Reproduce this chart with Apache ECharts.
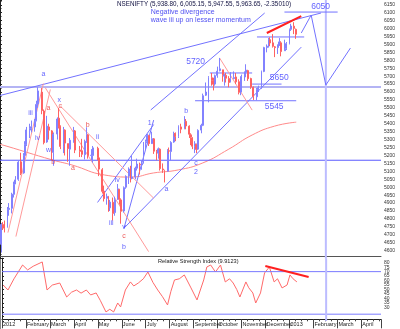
<!DOCTYPE html>
<html><head><meta charset="utf-8">
<script src="https://cdn.jsdelivr.net/npm/echarts@6/dist/echarts.min.js"></script>
<style>html,body{margin:0;padding:0;background:#fff}#c{width:400px;height:329px}</style>
</head><body><div id="c"></div>
<script>
// NSE NIFTY, sessions grouped in pairs: [first session, open, high, low, close]
const jan2012 = [['2012-01-02',4640,4773,4588,4765],['2012-01-04',4765,4780,4730,4749],['2012-01-06',4749,4790,4715,4742],['2012-01-10',4750,4875,4745,4860],['2012-01-12',4860,4900,4820,4867],['2012-01-16',4867,4965,4835,4956],['2012-01-18',4955,5035,4935,5018],['2012-01-20',5020,5070,5020,5046],['2012-01-24',5050,5170,5040,5158],['2012-01-27',5160,5217,5076,5087],['2012-01-31',5090,5215,5085,5199]];
const feb2012 = [['2012-02-01',5200,5290,5160,5269],['2012-02-03',5270,5380,5260,5361],['2012-02-07',5360,5400,5310,5368],['2012-02-09',5370,5420,5345,5381],['2012-02-13',5380,5430,5350,5416],['2012-02-15',5420,5545,5415,5522],['2012-02-17',5525,5630,5500,5607],['2012-02-22',5600,5625,5460,5483],['2012-02-24',5480,5490,5270,5281],['2012-02-28',5285,5450,5280,5385]];
const mar2012 = [['2012-03-01',5380,5400,5300,5359],['2012-03-05',5355,5360,5170,5222],['2012-03-07',5220,5345,5135,5333],['2012-03-12',5335,5440,5300,5430],['2012-03-14',5435,5500,5370,5380],['2012-03-16',5380,5390,5240,5257],['2012-03-20',5255,5380,5215,5364],['2012-03-22',5360,5365,5200,5278],['2012-03-26',5275,5275,5160,5243],['2012-03-28',5240,5310,5135,5296]];
const apr2012 = [['2012-04-02',5300,5380,5280,5358],['2012-04-04',5355,5360,5215,5234],['2012-04-10',5235,5260,5190,5226],['2012-04-12',5230,5305,5190,5207],['2012-04-16',5205,5300,5175,5289],['2012-04-18',5290,5378,5280,5332],['2012-04-20',5330,5335,5180,5200],['2012-04-24',5200,5240,5170,5202],['2012-04-26',5200,5260,5155,5248]];
const may2012 = [['2012-05-02',5245,5255,5170,5188],['2012-05-04',5185,5190,5070,5114],['2012-05-08',5110,5120,4960,4974],['2012-05-10',4975,5010,4910,4928],['2012-05-14',4930,4960,4890,4942],['2012-05-16',4940,4945,4845,4870],['2012-05-18',4870,4920,4850,4906],['2012-05-22',4905,4935,4790,4835],['2012-05-24',4840,4940,4820,4920],['2012-05-28',4925,5020,4920,4990],['2012-05-30',4985,4990,4890,4924]];
const jun2012 = [['2012-06-01',4920,4930,4770,4848],['2012-06-05',4850,5005,4840,4997],['2012-06-07',5000,5075,4990,5068],['2012-06-11',5070,5125,5020,5115],['2012-06-13',5115,5135,5030,5054],['2012-06-15',5055,5200,5050,5064],['2012-06-19',5065,5130,5050,5120],['2012-06-21',5120,5180,5105,5146],['2012-06-25',5145,5155,5080,5141],['2012-06-27',5140,5170,5110,5149],['2012-06-29',5150,5285,5150,5278]];
const jul2012 = [['2012-07-02',5280,5300,5240,5287],['2012-07-04',5290,5335,5270,5327],['2012-07-06',5325,5330,5260,5275],['2012-07-10',5275,5350,5290,5306],['2012-07-12',5305,5310,5210,5227],['2012-07-16',5225,5235,5170,5216],['2012-07-18',5215,5250,5180,5242],['2012-07-20',5240,5245,5105,5117],['2012-07-24',5115,5150,5090,5109],['2012-07-26',5105,5110,5030,5099],['2012-07-30',5100,5240,5100,5229]];
const aug2012 = [['2012-08-01',5230,5250,5210,5227],['2012-08-03',5225,5290,5165,5282],['2012-08-07',5285,5350,5280,5338],['2012-08-09',5340,5345,5290,5320],['2012-08-13',5320,5390,5310,5380],['2012-08-16',5380,5400,5340,5366],['2012-08-21',5370,5448,5365,5413],['2012-08-23',5415,5430,5365,5386],['2012-08-27',5385,5390,5310,5334],['2012-08-29',5330,5340,5265,5315],['2012-08-31',5310,5315,5240,5258]];
const sep2012 = [['2012-09-03',5255,5290,5215,5274],['2012-09-05',5270,5275,5215,5238],['2012-09-07',5240,5365,5235,5358],['2012-09-11',5360,5400,5340,5390],['2012-09-13',5390,5590,5385,5577],['2012-09-17',5580,5660,5575,5600],['2012-09-20',5600,5700,5535,5691],['2012-09-24',5690,5720,5640,5673],['2012-09-26',5670,5690,5610,5649],['2012-09-28',5650,5710,5640,5703]];
const oct2012 = [['2012-10-01',5705,5760,5690,5731],['2012-10-04',5735,5815,5730,5746],['2012-10-08',5740,5740,5665,5705],['2012-10-10',5700,5715,5640,5708],['2012-10-12',5705,5720,5660,5687],['2012-10-16',5685,5700,5630,5660],['2012-10-18',5665,5725,5660,5684],['2012-10-22',5685,5730,5680,5691],['2012-10-25',5695,5720,5650,5664],['2012-10-29',5665,5680,5585,5598],['2012-10-31',5600,5630,5580,5620]];
const nov2012 = [['2012-11-01',5620,5710,5615,5698],['2012-11-05',5695,5730,5670,5724],['2012-11-07',5725,5775,5720,5738],['2012-11-09',5735,5740,5670,5684],['2012-11-13',5685,5690,5620,5631],['2012-11-16',5630,5635,5550,5571],['2012-11-20',5570,5625,5548,5615],['2012-11-22',5615,5640,5600,5627],['2012-11-26',5630,5735,5620,5727],['2012-11-29',5730,5885,5725,5880]];
const dec2012 = [['2012-12-03',5880,5900,5850,5889],['2012-12-05',5890,5940,5880,5931],['2012-12-07',5930,5945,5890,5909],['2012-12-11',5910,5965,5880,5888],['2012-12-13',5885,5890,5820,5880],['2012-12-17',5880,5900,5840,5896],['2012-12-19',5895,5940,5890,5916],['2012-12-21',5910,5920,5825,5855],['2012-12-26',5860,5930,5860,5870],['2012-12-28',5875,5915,5865,5905]];
const jan2013 = [['2013-01-01',5905,6000,5900,5993],['2013-01-03',5995,6030,5985,6016],['2013-01-07',6015,6040,5965,6001],['2013-01-09',5995,6000,5935,5964]];

// Positions on the time axis are in months since 1 Jan 2012
const movingAverage = [[0,5270],[0.25,5260],[2.17,5172],[2.99,5140],[4.34,5077],[5.44,5064],[6.38,5090],[7.40,5109],[8.42,5153],[9.5,5240],[10.47,5329],[11.4,5385],[12.30,5410]];
const rsiPoints = [[0.05,55],[0.25,49.5],[0.5,62],[0.86,77.4],[1.07,71.9],[1.3,76],[1.68,80.8],[1.88,49.5],[2.1,55],[2.41,57.3],[2.70,41.7],[2.9,47],[3.11,49.5],[3.3,46],[3.52,49.5],[3.7,44],[3.93,46.2],[4.1,38],[4.34,25.0],[4.5,28],[4.66,25.0],[4.83,35.0],[4.95,30.6],[5.15,49.5],[5.36,58.5],[5.5,54],[5.69,57.3],[5.9,62],[6.09,69.6],[6.3,58],[6.50,49.5],[6.7,42],[6.91,32.8],[7.05,48],[7.20,60.7],[7.4,62],[7.61,66.3],[7.89,51.8],[8.14,38.4],[8.42,60.7],[8.55,75.2],[8.71,77.4],[8.91,69.6],[9.12,77.4],[9.32,58.5],[9.5,62],[9.65,57.3],[9.8,50],[9.93,41.7],[10.18,58.5],[10.3,52],[10.47,46.2],[10.59,35.0],[10.79,46.2],[10.96,68.5],[11.16,75.2],[11.36,58.5],[11.5,62],[11.69,51.8],[11.90,55.1],[12.02,66.3],[12.15,62],[12.31,58.5]];
const rsiLevels = [70, 22.5];
const priceLevels = [5631, 5170];
const projectionMonth = 13.53;
const monthNames = ['2012','February','March','April','May','June','July','August','September','October','November','December','2013','February','March','April'];

// Analyst trend lines in [month, price]
const blueLines = [
  [[0,5578],[13.33,6098]],
  [[6.26,5487],[10.99,6098]],
  [[5.15,4742],[12.51,5883]],
  [[5.15,4742],[6.38,5423]],
  [[4.05,4904],[6.38,5395]],
  [[11.81,6104],[14.02,6104]],
  [[8.10,5545],[12.30,5545]],
  [[10.47,5650],[11.69,5650]],
  [[8.71,5720],[10.47,5720]],
  [[10.67,5947],[12.63,5947]],
  [[12.51,5972],[12.92,6085],[13.53,5644],[14.55,5877]]
];
const redLines = [
  [[0.33,4714],[1.80,5653]],
  [[0.66,4689],[2.09,5616]],
  [[1.88,5627],[6.17,4594]],
  [[2.50,5512],[6.38,4931]],
  [[9.12,5814],[10.47,5486]]
];
const divergencePrice = [[11.08,5972],[12.51,6079]];
const divergenceRsi = [[10.99,76.3],[12.80,64.0]];

const blueMarks = [['a',1.80,5714],['x',2.46,5550],['iii',1.27,5468],['iv',1.56,5310],['w',2.01,5235],['ii',4.05,5316],['iv',4.87,5045],['iii',4.62,4774],['v',5.15,4749],['b',5.15,4623],['1',6.22,5405],['b',7.73,5480],['a',6.91,4989],['c',8.14,5153],['2',8.14,5096]];
const redMarks = [['c',2.50,5512],['a',2.01,5499],['b',3.64,5392],['b',2.21,5159],['a',3.03,5121],['c',5.15,4693]];
const levelTags = [['5720',7.73,5789],['5650',11.20,5690],['5545',10.99,5505],['6050',12.92,6137]];
const notes = [['Negative divergence',6.26,6102],['wave iii up on lesser momentum',6.26,6054]];

const sessions = [].concat(jan2012,feb2012,mar2012,apr2012,may2012,jun2012,jul2012,aug2012,sep2012,oct2012,nov2012,dec2012,jan2013);
function monthPos(s){
  const [y,mo,d] = s.split('-').map(Number);
  const dim = new Date(y,mo,0).getDate();
  return (y-2012)*12 + (mo-1) + (d-1+0.7)/dim;
}
const candles = sessions.map(r => [monthPos(r[0]), r[1], r[4], r[3], r[2]]);

const XMAX = 15.82;
const FONT = 'Liberation Sans, Arial, sans-serif';
const BLUE = '#3a3aff', RED = '#e83030';

function lineSeries(pts, color, width, xi, yi, z){
  return {type:'line', xAxisIndex:xi||0, yAxisIndex:yi||0, data:pts, symbol:'none', silent:true,
    lineStyle:{color:color, width:width}, clip:true, z:z||3, animation:false};
}
function textSeries(items, color, size, align){
  return {type:'scatter', xAxisIndex:0, yAxisIndex:0, symbolSize:0, silent:true, z:6, animation:false,
    data: items.map(t => ({name:t[0], value:[t[1],t[2]]})),
    label:{show:true, position:'inside', formatter:'{b}', color:color, fontSize:size, fontFamily:FONT, align:align||'center', verticalAlign:'middle'}};
}

const series = [];
series.push({type:'candlestick', xAxisIndex:0, yAxisIndex:0, data:candles, barWidth:1.4, clip:true, z:4, animation:false,
  itemStyle:{color:'#9090ff', color0:'#ff7474', borderColor:'#8282ff', borderColor0:'#ff6262', borderWidth:1}});
series.push(Object.assign(lineSeries(movingAverage,'#ff8a8a',1), {smooth:true}));
series.push(lineSeries([[0,priceLevels[0]],[XMAX,priceLevels[0]]],'#b4b4f4',2));
series.push(lineSeries([[0,priceLevels[1]],[XMAX,priceLevels[1]]],'#5a5aff',1));
series.push(lineSeries([[projectionMonth,4550],[projectionMonth,6180]],'#bcbcff',2));
blueLines.forEach(l => series.push(lineSeries(l,'#7272ff',1)));
redLines.forEach(l => series.push(lineSeries(l,'#ff9a9a',1)));
series.push(lineSeries(divergencePrice,'#ff2020',2,0,0,5));
series.push(textSeries(blueMarks,BLUE,7));
series.push(textSeries(redMarks,RED,7));
series.push(textSeries(levelTags,BLUE,8.5,'left'));
series.push(textSeries(notes,'#2222ee',7,'left'));
// RSI panel
series.push(lineSeries(rsiPoints,'#ff6a6a',1,1,1));
rsiLevels.forEach(v => series.push(lineSeries([[0,v],[XMAX,v]],'#7a7aff',1,1,1)));
series.push(lineSeries([[projectionMonth,15],[projectionMonth,85]],'#bcbcff',2,1,1));
series.push(lineSeries(divergenceRsi,'#ff2020',2,1,1,5));

const chart = echarts.init(document.getElementById('c'), null, {renderer:'canvas'});
chart.setOption({
  animation:false,
  backgroundColor:'#fff',
  title:[
    {text:'NSENIFTY (5,938.80, 6,005.15, 5,947.55, 5,963.65, -2.35010)', left:117, top:1.5, padding:0,
     textStyle:{fontSize:6.3, fontWeight:'normal', color:'#101040', fontFamily:FONT}},
    {text:'Relative Strength Index (9.9123)', left:158, top:258, padding:0,
     textStyle:{fontSize:5.6, fontWeight:'normal', color:'#202020', fontFamily:FONT}}
  ],
  grid:[
    {left:-6.1, right:19, top:0, height:258.6},
    {left:-6.1, right:19, top:258.2, height:62.7}
  ],
  xAxis:[
    {gridIndex:0, type:'value', min:0, max:XMAX, offset:-1.9,
     axisLine:{show:true, lineStyle:{color:'#555', width:1}}, axisTick:{show:false}, axisLabel:{show:false}, splitLine:{show:false}},
    {gridIndex:1, type:'value', min:0, max:XMAX, interval:1, offset:-1.6,
     axisLine:{show:true, lineStyle:{color:'#222', width:1}},
     axisTick:{show:true, length:9, lineStyle:{color:'#444'}},
     minorTick:{show:true, splitNumber:4, length:2, lineStyle:{color:'#444'}},
     axisLabel:{show:true, fontSize:5.5, color:'#222', fontFamily:FONT, align:'left', margin:2, padding:[0,0,0,1],
       formatter:v => monthNames[Math.round(v)] || ''},
     splitLine:{show:false}}
  ],
  yAxis:[
    {gridIndex:0, type:'value', position:'right', min:4550, max:6180, interval:50,
     axisLine:{show:true, lineStyle:{color:'#222'}}, axisTick:{show:true, length:2, lineStyle:{color:'#222'}},
     minorTick:{show:true, splitNumber:2, length:1.5},
     axisLabel:{fontSize:5, color:'#333', margin:3, fontFamily:FONT, formatter:v => v < 4600 ? '' : String(v)},
     splitLine:{show:false}},
    {gridIndex:1, type:'value', position:'right', min:15, max:85, interval:5,
     axisLine:{show:true, lineStyle:{color:'#222'}}, axisTick:{show:true, length:2, lineStyle:{color:'#222'}},
     axisLabel:{fontSize:5, color:'#333', margin:3, fontFamily:FONT, formatter:v => (v >= 30 && v <= 80) ? String(v) : ''},
     splitLine:{show:false}}
  ],
  graphic:[
    {type:'line', shape:{x1:0.5, y1:0, x2:0.5, y2:329}, style:{stroke:'#888', lineWidth:1}, silent:true}
  ],
  series:series
});
</script></body></html>
